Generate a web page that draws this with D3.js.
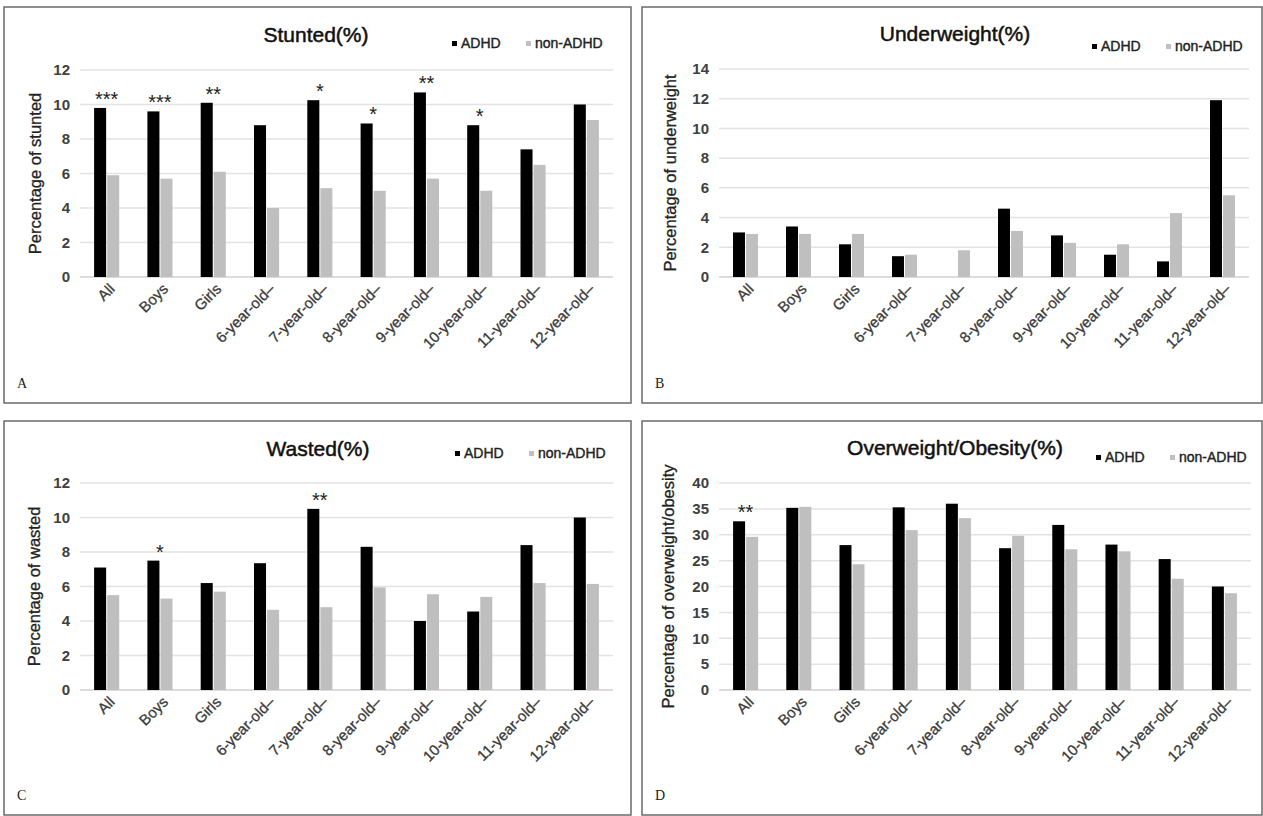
<!DOCTYPE html>
<html>
<head>
<meta charset="utf-8">
<script src="https://cdn.jsdelivr.net/npm/d3@7"></script>
<style>
  body { margin: 0; background: #fff; }
  svg { display: block; font-family: "Liberation Sans", Arial, sans-serif; }
</style>
</head>
<body>
<svg id="chart" width="1263" height="816"></svg>
<script>
// categories shared by all four panels
const categories = ["All", "Boys", "Girls", "6-year-old–", "7-year-old–", "8-year-old–",
  "9-year-old–", "10-year-old–", "11-year-old–", "12-year-old–"];
const seriesNames = ["ADHD", "non-ADHD"];

// A: stunted
const stuntedADHD = [9.8, 9.6, 10.1, 8.8, 10.25, 8.9, 10.7, 8.8, 7.4, 10.0];
const stuntedNon = [5.9, 5.7, 6.1, 4.0, 5.15, 5.0, 5.7, 5.0, 6.5, 9.1];
const stuntedStars = ["***", "***", "**", "", "*", "*", "**", "*", "", ""];
const stuntedTicks = [0, 2, 4, 6, 8, 10, 12];

// B: underweight
const underADHD = [3.0, 3.4, 2.2, 1.4, 0, 4.6, 2.8, 1.5, 1.05, 11.9];
const underNon = [2.9, 2.9, 2.9, 1.5, 1.8, 3.1, 2.3, 2.2, 4.3, 5.5];
const underStars = ["", "", "", "", "", "", "", "", "", ""];
const underTicks = [0, 2, 4, 6, 8, 10, 12, 14];

// C: wasted
const wastedADHD = [7.1, 7.5, 6.2, 7.35, 10.5, 8.3, 4.0, 4.55, 8.4, 10.0];
const wastedNon = [5.5, 5.3, 5.7, 4.65, 4.8, 5.95, 5.55, 5.4, 6.2, 6.15];
const wastedStars = ["", "*", "", "", "**", "", "", "", "", ""];
const wastedTicks = [0, 2, 4, 6, 8, 10, 12];

// D: overweight / obesity
const overADHD = [32.6, 35.2, 28.0, 35.3, 36.0, 27.4, 31.9, 28.1, 25.3, 20.0];
const overNon = [29.6, 35.4, 24.3, 30.9, 33.2, 29.8, 27.2, 26.8, 21.5, 18.7];
const overStars = ["**", "", "", "", "", "", "", "", "", ""];
const overTicks = [0, 5, 10, 15, 20, 25, 30, 35, 40];

const colors = { "ADHD": "#000000", "non-ADHD": "#bfbfbf" };

const svg = d3.select("#chart");

const panels = [
  { box: [4, 7, 631, 403], plot: [80, 613, 70, 277], title: "Stunted(%)", titleX: 316, titleY: 42,
    legX: 452, legY: 48, yLabel: "Percentage of  stunted", yLabelX: 35, letter: "A",
    a: stuntedADHD, n: stuntedNon, stars: stuntedStars, ticks: stuntedTicks },
  { box: [642, 7, 1262, 403], plot: [719, 1249, 69, 277], title: "Underweight(%)", titleX: 955, titleY: 41,
    legX: 1092, legY: 51, yLabel: "Percentage of underweight", yLabelX: 670, letter: "B",
    a: underADHD, n: underNon, stars: underStars, ticks: underTicks },
  { box: [4, 421, 631, 815], plot: [80, 613, 483, 690], title: "Wasted(%)", titleX: 318, titleY: 456,
    legX: 455, legY: 458, yLabel: "Percentage of wasted", yLabelX: 34, letter: "C",
    a: wastedADHD, n: wastedNon, stars: wastedStars, ticks: wastedTicks },
  { box: [642, 421, 1262, 815], plot: [719, 1251, 483, 690], title: "Overweight/Obesity(%)", titleX: 955, titleY: 455,
    legX: 1096, legY: 462, yLabel: "Percentage of overweight/obesity", yLabelX: 668, letter: "D",
    a: overADHD, n: overNon, stars: overStars, ticks: overTicks }
];

panels.forEach(p => {
  const g = svg.append("g");
  const [bx0, by0, bx1, by1] = p.box;
  const [px0, px1, py0, py1] = p.plot;

  // frame
  g.append("rect")
    .attr("x", bx0).attr("y", by0)
    .attr("width", bx1 - bx0).attr("height", by1 - by0)
    .attr("fill", "none").attr("stroke", "#6a6a6a").attr("stroke-width", 1.5);

  const x0 = d3.scaleBand().domain(categories).range([px0, px1]).paddingInner(0.49).paddingOuter(0.245);
  const x1 = d3.scaleBand().domain(seriesNames).range([0, x0.bandwidth()]).padding(0.08);
  const y = d3.scaleLinear().domain([0, d3.max(p.ticks)]).range([py1, py0]);

  // gridlines
  g.selectAll(".grid").data(p.ticks).join("line")
    .attr("x1", px0).attr("x2", px1)
    .attr("y1", d => y(d)).attr("y2", d => y(d))
    .attr("stroke", d => d === 0 ? "#d0d0d0" : "#e3e3e3")
    .attr("stroke-width", 1.5);

  // y axis
  const yAxis = g.append("g")
    .attr("transform", `translate(${px0},0)`)
    .call(d3.axisLeft(y).tickValues(p.ticks).tickSize(0).tickPadding(10));
  yAxis.select(".domain").remove();
  yAxis.selectAll(".tick text")
    .style("font-size", "15px").style("font-weight", "bold")
    .style("font-family", "Liberation Sans, Arial, sans-serif")
    .attr("fill", "#404040");

  // x axis labels
  const xAxis = g.append("g")
    .attr("transform", `translate(0,${py1})`)
    .call(d3.axisBottom(x0).tickSize(0).tickPadding(0));
  xAxis.select(".domain").remove();
  xAxis.selectAll(".tick text")
    .style("font-size", "15px")
    .style("font-family", "Liberation Sans, Arial, sans-serif")
    .attr("fill", "#3a3a3a")
    .attr("stroke", "#3a3a3a").attr("stroke-width", 0.3)
    .attr("text-anchor", "end")
    .attr("dy", null)
    .attr("transform", "translate(9,13) rotate(-45)");

  // bars
  const rows = categories.map((c, i) => ({ cat: c, vals: [p.a[i], p.n[i]], star: p.stars[i] }));
  const grp = g.selectAll(".grp").data(rows).join("g")
    .attr("transform", d => `translate(${x0(d.cat)},0)`);
  grp.selectAll("rect")
    .data(d => seriesNames.map((s, j) => ({ s: s, v: d.vals[j] })))
    .join("rect")
    .attr("x", d => x1(d.s))
    .attr("y", d => y(d.v))
    .attr("width", x1.bandwidth())
    .attr("height", d => y(0) - y(d.v))
    .attr("fill", d => colors[d.s]);

  // significance stars
  grp.append("text")
    .attr("x", x0.bandwidth() / 2)
    .attr("y", d => y(d.vals[0]) - 2)
    .attr("text-anchor", "middle")
    .style("font-size", "20px")
    .attr("fill", "#222")
    .text(d => d.star);

  // title
  g.append("text")
    .attr("x", p.titleX).attr("y", p.titleY)
    .attr("text-anchor", "middle")
    .style("font-size", "21px")
    .attr("fill", "#111")
    .attr("stroke", "#111").attr("stroke-width", 0.5)
    .text(p.title);

  // legend
  let lx = p.legX;
  seriesNames.forEach((s, j) => {
    g.append("rect")
      .attr("x", lx).attr("y", p.legY - 7)
      .attr("width", 5).attr("height", 5)
      .attr("fill", colors[s]);
    g.append("text")
      .attr("x", lx + 9).attr("y", p.legY)
      .style("font-size", "14px")
      .attr("fill", "#222")
      .attr("stroke", "#222").attr("stroke-width", 0.4)
      .text(s);
    lx += 74;
  });

  // y label
  g.append("text")
    .attr("transform", `translate(${p.yLabelX},${(py0 + py1) / 2}) rotate(-90)`)
    .attr("text-anchor", "middle")
    .attr("dy", "0.35em")
    .style("font-size", "16.5px")
    .attr("fill", "#222")
    .attr("stroke", "#222").attr("stroke-width", 0.3)
    .text(p.yLabel);

  // panel letter
  g.append("text")
    .attr("x", bx0 + 13).attr("y", by1 - 15)
    .style("font-family", "Liberation Serif, serif")
    .style("font-size", "14px")
    .attr("fill", "#222")
    .text(p.letter);
});
</script>
</body>
</html>
